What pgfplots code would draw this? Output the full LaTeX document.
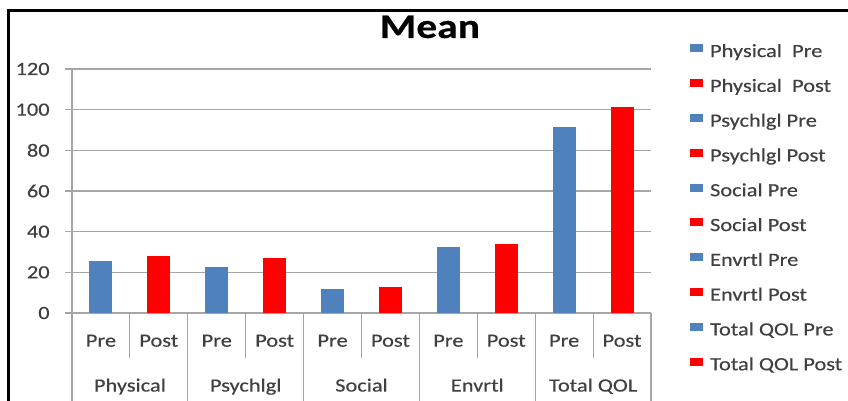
\documentclass[border=0pt]{standalone}
\usepackage{pgfplots}
\pgfplotsset{compat=1.18}
\usepackage{fontspec}
\setmainfont{Carlito}[FakeStretch=1.2, FakeBold=0.4]

\definecolor{preblue}{HTML}{4F81BD}
\definecolor{postred}{HTML}{FF0000}
\definecolor{labelgray}{HTML}{404040}
\definecolor{gridgray}{HTML}{A6A6A6}

\pgfplotsset{
  barbase/.style={ybar, bar width=17.25pt, bar shift=0pt, draw=none},
  prebar/.style={barbase, fill=preblue,
    legend image code/.code={\fill[preblue] (0pt,0.5pt) rectangle (9.75pt,6.5pt);}},
  postbar/.style={barbase, fill=postred,
    legend image code/.code={\fill[postred] (0pt,0.5pt) rectangle (9.75pt,6.5pt);}},
}

\begin{document}
\begin{tikzpicture}
\useasboundingbox (0pt,0pt) rectangle (636pt,300pt);
% outer frame
\draw[line width=1.6pt] (6.4pt,-5pt) -- (6.4pt,292.1pt) -- (645pt,292.1pt);
% title
\node[anchor=base, text=black, font=\fontsize{26}{29}\selectfont\bfseries] at (322.5pt,271.5pt) {Mean};
\coordinate (plotorigin) at (54pt,65.25pt);

\begin{axis}[
  at={(plotorigin)}, anchor=south west,
  scale only axis, width=434.25pt, height=183pt,
  xmin=-0.5, xmax=9.5, ymin=0, ymax=120,
  ytick={0,20,...,120},
  xtick={0,...,9},
  xticklabels={Pre,Post,Pre,Post,Pre,Post,Pre,Post,Pre,Post},
  axis x line*=bottom, axis y line*=left,
  axis line style={gridgray, line width=0.8pt},
  ymajorgrids, grid style={gridgray, line width=0.8pt},
  tick align=outside, major tick length=5.25pt,
  ytick style={gridgray, line width=0.8pt},
  xtick style={draw=none},
  tick label style={text=labelgray},
  yticklabel style={font=\fontsize{14}{16}\selectfont, xshift=-8pt},
  xticklabel style={font=\fontsize{14}{16}\selectfont, anchor=base, yshift=-20pt},
  /pgf/number format/assume math mode=true,
  clip=false,
  legend style={draw=none, fill=none, at={(1.067,1.102)}, anchor=north west,
    inner sep=0pt, row sep=13.6pt,
    font=\fontsize{14}{16}\selectfont, text=labelgray,
    nodes={inner sep=0pt, text height=9pt, text depth=3pt},
    /tikz/every odd column/.append style={column sep=5.25pt}},
  legend cell align=left,
]
\addplot[prebar]  coordinates {(0,25.5)};
\addlegendentry{Physical\ \ Pre}
\addplot[postbar] coordinates {(1,27.8)};
\addlegendentry{Physical\ \ Post}
\addplot[prebar]  coordinates {(2,22.5)};
\addlegendentry{Psychlgl Pre}
\addplot[postbar] coordinates {(3,27.0)};
\addlegendentry{Psychlgl Post}
\addplot[prebar]  coordinates {(4,12.0)};
\addlegendentry{Social Pre}
\addplot[postbar] coordinates {(5,12.8)};
\addlegendentry{Social Post}
\addplot[prebar]  coordinates {(6,32.4)};
\addlegendentry{Envrtl Pre}
\addplot[postbar] coordinates {(7,33.7)};
\addlegendentry{Envrtl Post}
\addplot[prebar]  coordinates {(8,91.7)};
\addlegendentry{Total QOL Pre}
\addplot[postbar] coordinates {(9,101.1)};
\addlegendentry{Total QOL Post}

% separators below the category axis
\pgfplotsinvokeforeach{0.5,2.5,4.5,6.5,8.5}{
  \draw[gridgray, line width=0.8pt] (axis cs:#1,0) -- ++(0pt,-33.75pt);
}
\pgfplotsinvokeforeach{-0.5,1.5,3.5,5.5,7.5,9.5}{
  \draw[gridgray, line width=0.8pt] (axis cs:#1,0) -- ++(0pt,-70pt);
}
% group names
\tikzset{grouplabel/.style={anchor=base, text=labelgray, font=\fontsize{14}{16}\selectfont}}
\node[grouplabel] at ([yshift=-58.9pt]axis cs:0.5,0) {Physical};
\node[grouplabel] at ([yshift=-58.9pt]axis cs:2.5,0) {Psychlgl};
\node[grouplabel] at ([yshift=-58.9pt]axis cs:4.5,0) {Social};
\node[grouplabel] at ([yshift=-58.9pt]axis cs:6.5,0) {Envrtl};
\node[grouplabel] at ([yshift=-58.9pt]axis cs:8.5,0) {Total QOL};
\end{axis}
\end{tikzpicture}
\end{document}
